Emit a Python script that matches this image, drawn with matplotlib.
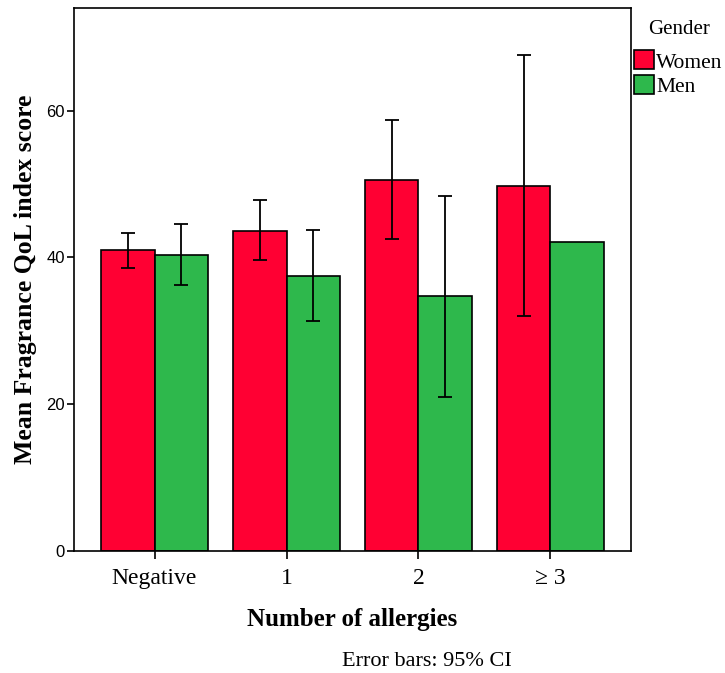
import matplotlib
matplotlib.use("Agg")
import matplotlib.pyplot as plt
from matplotlib.patches import Rectangle
import numpy as np

categories = ["Negative", "1", "2", "\u2265 3"]
women_mean = [41.0, 43.6, 50.6, 49.8]
women_lo = [38.5, 39.6, 42.5, 32.0]
women_hi = [43.4, 47.8, 58.7, 67.6]
men_mean = [40.4, 37.5, 34.7, 42.1]
men_lo = [36.2, 31.3, 21.0, np.nan]
men_hi = [44.6, 43.7, 48.4, np.nan]
series_names = ["Women", "Men"]

red = "#ff0033"
green = "#2eb84c"
serif = ["Liberation Serif", "DejaVu Serif"]
sans = ["Liberation Sans", "DejaVu Sans"]

W, H = 725, 673
fig = plt.figure(figsize=(W / 100, H / 100), dpi=100)
ax = fig.add_axes([74 / W, 1 - 551 / H, (631 - 74) / W, (551 - 8) / H])

x = np.arange(len(categories))
w = 0.404

def err(mean, lo, hi):
    mean = np.array(mean); lo = np.array(lo); hi = np.array(hi)
    return np.vstack([mean - lo, hi - mean])

ax.bar(x - w / 2, women_mean, w, color=red, edgecolor="black", linewidth=1.2,
       zorder=2)
ax.bar(x + w / 2, men_mean, w, color=green, edgecolor="black", linewidth=1.2,
       zorder=2)
ax.errorbar(x - w / 2, women_mean, yerr=err(women_mean, women_lo, women_hi),
            fmt="none", ecolor="black", elinewidth=1.3, capsize=4.7,
            capthick=1.3, zorder=3)
ax.errorbar(x + w / 2, men_mean, yerr=err(men_mean, men_lo, men_hi),
            fmt="none", ecolor="black", elinewidth=1.3, capsize=4.7,
            capthick=1.3, zorder=3)

ax.set_xlim(-0.61, 3.61)
ax.set_ylim(0, 74)
ax.set_yticks([0, 20, 40, 60])
ax.set_xticks(x)
ax.set_xticklabels(categories, family=serif, fontsize=17)
for lbl in ax.get_yticklabels():
    lbl.set_family(sans)
    lbl.set_fontsize(12)
ax.tick_params(axis="y", length=5, width=1.2, pad=1.5)
ax.tick_params(axis="x", length=6, width=1.2, pad=6)
for s in ax.spines.values():
    s.set_linewidth(1.2)

ax.set_xlabel("Number of allergies", family=serif, fontweight="bold",
              fontsize=18, labelpad=14)
ax.set_ylabel("Mean Fragrance QoL index score", family=serif,
              fontweight="bold", fontsize=18.5, labelpad=7)

# legend drawn in figure pixels, to the right of the frame
fig.text(679 / W, 1 - 30 / H, "Gender", family=serif, fontsize=15,
         ha="center", va="center")
for i, (name, col) in enumerate(zip(series_names, [red, green])):
    top = 50 + i * 25
    fig.add_artist(Rectangle((634 / W, 1 - (top + 19) / H), 20 / W, 19 / H,
                             transform=fig.transFigure, facecolor=col,
                             edgecolor="black", linewidth=1.2))
    fig.text(656 / W, 1 - (top + 13) / H, name, family=serif, fontsize=15.5,
             ha="left", va="center")

fig.text(512 / W, 1 - 661 / H, "Error bars: 95% CI", family=serif,
         fontsize=16, ha="right", va="center")

fig.savefig("out.png", dpi=100)
